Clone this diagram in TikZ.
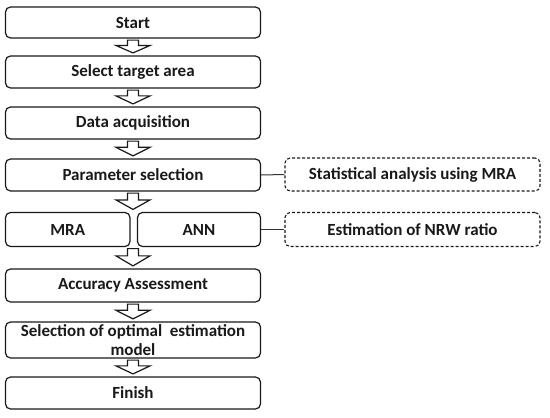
\documentclass[tikz,border=0pt]{standalone}
\usepackage{fontspec}
\setmainfont{Carlito}
\usetikzlibrary{calc}
\tikzset{
  stepbox/.style={draw=black!90, line width=1.2pt, rounded corners=5pt, inner sep=0pt,
    font=\fontsize{17}{18}\selectfont\bfseries, text=black!90, align=center},
  dashbox/.style={stepbox, dash pattern=on 3pt off 2pt, line width=1.1pt},
  barrowstyle/.style={draw=black!90, line width=1.2pt, fill=white, line join=miter},
  linkline/.style={draw=black!80, line width=1pt}
}
\newcommand\barrow[2]{%
  \draw[barrowstyle] let \p1=#1, \p2=#2 in
    (\x1-5.5pt,\y1-1.5pt) -- (\x1+5.5pt,\y1-1.5pt)
    -- (\x1+5.5pt,{\y1-1.5pt-0.42*(\y1-\y2-4pt)})
    -- (\x1+17pt,{\y1-1.5pt-0.42*(\y1-\y2-4pt)})
    -- (\x1,\y2+2.5pt)
    -- (\x1-17pt,{\y1-1.5pt-0.42*(\y1-\y2-4pt)})
    -- (\x1-5.5pt,{\y1-1.5pt-0.42*(\y1-\y2-4pt)}) -- cycle;}
\begin{document}
\begin{tikzpicture}[x=1pt,y=-1pt]
  \useasboundingbox (0,0) rectangle (550,418);
  \node[stepbox, minimum width=255pt, minimum height=31pt] (start) at (133,22.5) {Start};
  \node[stepbox, minimum width=255pt, minimum height=32pt] (select) at (133,72) {Select target area};
  \node[stepbox, minimum width=255pt, minimum height=32pt] (data) at (133,123) {Data acquisition};
  \node[stepbox, minimum width=255pt, minimum height=32pt] (param) at (133,175) {Parameter selection};
  \node[stepbox, minimum width=124.5pt, minimum height=34pt] (mra) at (67.75,229.5) {MRA};
  \node[stepbox, minimum width=123pt, minimum height=34pt] (ann) at (199,229.5) {ANN};
  \node[stepbox, minimum width=255pt, minimum height=33pt] (acc) at (133,285.5) {Accuracy Assessment};
  \node[stepbox, minimum width=255pt, minimum height=36pt, font=\fontsize{17}{19}\selectfont\bfseries] (sel) at (133,340) {Selection of optimal\ \ estimation\\model};
  \node[stepbox, minimum width=255pt, minimum height=32pt] (finish) at (133,393) {Finish};
  \node[dashbox, minimum width=255pt, minimum height=33pt] (stat) at (412.5,174.5) {Statistical analysis using MRA};
  \node[dashbox, minimum width=255pt, minimum height=34pt] (est) at (412.5,229.5) {Estimation of NRW ratio};
  \draw[linkline] (param.east) -- (stat.west);
  \draw[linkline] (ann.east) -- (est.west);
  \barrow{(start.south)}{(select.north)}
  \barrow{(select.south)}{(data.north)}
  \barrow{(data.south)}{(param.north)}
  \barrow{(param.south)}{(param.south |- mra.north)}
  \barrow{(param.south |- mra.south)}{(acc.north)}
  \barrow{(acc.south)}{(sel.north)}
  \barrow{(sel.south)}{(finish.north)}
\end{tikzpicture}
\end{document}
